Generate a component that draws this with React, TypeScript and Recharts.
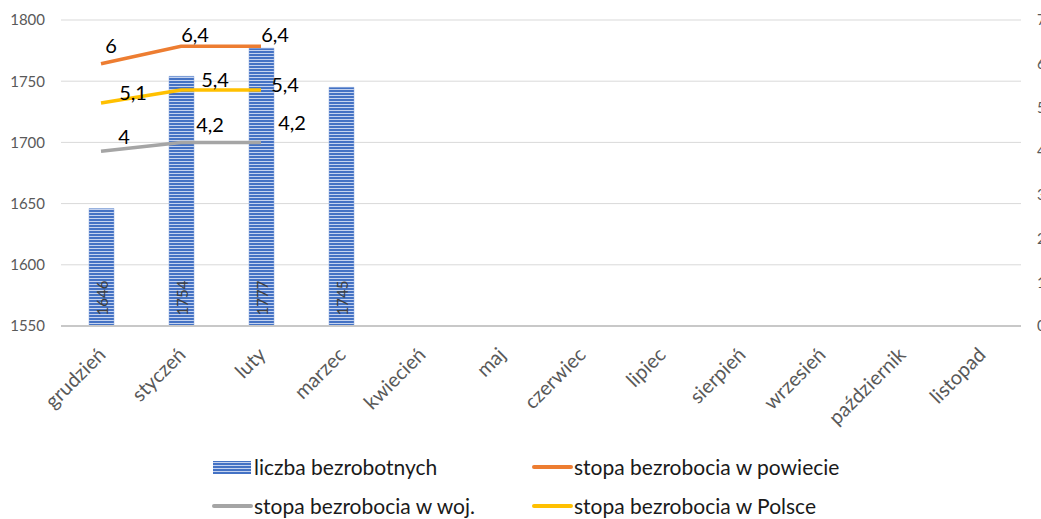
import React from "react";
import {
    Bar,
    CartesianGrid,
    ComposedChart,
    LabelList,
    Line,
    XAxis,
    YAxis,
} from "recharts";

const months = [
    "grudzień",
    "styczeń",
    "luty",
    "marzec",
    "kwiecień",
    "maj",
    "czerwiec",
    "lipiec",
    "sierpień",
    "wrzesień",
    "październik",
    "listopad",
];
const unemployed = [1646, 1754, 1777, 1745, null, null, null, null, null, null, null, null];
const ratePowiat = [6, 6.4, 6.4, null, null, null, null, null, null, null, null, null];
const rateWoj = [4, 4.2, 4.2, null, null, null, null, null, null, null, null, null];
const ratePolska = [5.1, 5.4, 5.4, null, null, null, null, null, null, null, null, null];

const leftTicks = [1550, 1600, 1650, 1700, 1750, 1800];
const rightTicks = [0, 1, 2, 3, 4, 5, 6, 7];

const data = months.map((m, i) => ({
    month: m,
    liczba: unemployed[i],
    powiat: ratePowiat[i],
    woj: rateWoj[i],
    polska: ratePolska[i],
}));

const FONT = "Lato, 'Open Sans', sans-serif";

// hand-placed label nudges, like Excel's dragged labels
const labelNudge: Record<string, [number, number][]> = {
    powiat: [[10, -19], [14, -12], [14, -12]],
    polska: [[32, -11], [34, -11], [24, -6]],
    woj: [[23, -15], [29, -18], [31, -20]],
};

const fmt = (v: number) => String(v).replace(".", ",");

const lineLabel = (key: string) => (props: any) => {
    const { x, y, value, index } = props;
    if (value == null) return null;
    const [dx, dy] = labelNudge[key][index] || [0, -12];
    return (
        <text
            x={x + dx}
            y={y + dy}
            textAnchor="middle"
            dominantBaseline="central"
            fontSize={20}
            fontFamily={FONT}
            fill="#000"
        >
            {fmt(value)}
        </text>
    );
};

const barLabel = (props: any) => {
    const { x, y, width, height, value } = props;
    if (value == null) return null;
    const cx = x + width / 2;
    const cy = y + height - 28;
    return (
        <text
            x={cx}
            y={cy}
            transform={`rotate(-90 ${cx} ${cy})`}
            textAnchor="middle"
            dominantBaseline="central"
            fontSize={15}
            fontFamily={FONT}
            fill="#404040"
        >
            {value}
        </text>
    );
};

const MonthTick = ({ x, y, payload }: any) => (
    <text
        x={x + 6}
        y={y + 22}
        transform={`rotate(-45 ${x + 6} ${y + 22})`}
        textAnchor="end"
        fontSize={20}
        fontFamily={FONT}
        fill="#595959"
    >
        {payload.value}
    </text>
);

const legendItems = [
    { name: "liczba bezrobotnych", kind: "bar", color: "#4472C4" },
    { name: "stopa bezrobocia w powiecie", kind: "line", color: "#ED7D31" },
    { name: "stopa bezrobocia w woj.", kind: "line", color: "#A5A5A5" },
    { name: "stopa bezrobocia w Polsce", kind: "line", color: "#FFC000" },
];

function LegendIcon({ kind, color }: { kind: string; color: string }) {
    if (kind === "bar") {
        return (
            <svg width={42} height={14} style={{ marginRight: 0 }}>
                <defs>
                    <pattern id="stripesLegend" width={4} height={3} patternUnits="userSpaceOnUse">
                        <rect width={4} height={3} fill="#4472C4" />
                        <rect y={2} width={4} height={1} fill="#c5d3ef" />
                    </pattern>
                </defs>
                <rect x={1} y={1} width={38} height={13} fill="url(#stripesLegend)" />
            </svg>
        );
    }
    return (
        <svg width={42} height={14} style={{ marginRight: 0 }}>
            <line x1={2} x2={39} y1={7} y2={7} stroke={color} strokeWidth={4} strokeLinecap="round" />
        </svg>
    );
}

export default function App() {
    return (
        <div style={{ position: "absolute", left: 0, top: 0, width: 1041, height: 519, background: "#fff" }}>
            <ComposedChart
                width={1041}
                height={519}
                data={data}
                margin={{ top: 20, right: 0, left: 0, bottom: 93 }}
                barSize={25}
            >
                <defs>
                    <pattern id="stripes" width={4} height={3} patternUnits="userSpaceOnUse">
                        <rect width={4} height={3} fill="#4472C4" />
                        <rect y={2} width={4} height={1} fill="#c5d3ef" />
                    </pattern>
                </defs>
                <CartesianGrid yAxisId="left" vertical={false} stroke="#d9d9d9" />
                <XAxis
                    dataKey="month"
                    interval={0}
                    height={100}
                    tickLine={false}
                    axisLine={{ stroke: "#c8c8c8", strokeWidth: 2 }}
                    tick={<MonthTick />}
                />
                <YAxis
                    yAxisId="left"
                    domain={[1550, 1800]}
                    ticks={leftTicks}
                    width={61}
                    axisLine={false}
                    tickLine={false}
                    tickSize={0}
                    tickMargin={16}
                    tick={{ fill: "#595959", fontSize: 15, fontFamily: FONT }}
                />
                <YAxis
                    yAxisId="right"
                    orientation="right"
                    domain={[0, 7]}
                    ticks={rightTicks}
                    width={20}
                    axisLine={false}
                    tickLine={false}
                    tickSize={0}
                    tickMargin={16}
                    tick={{ fill: "#595959", fontSize: 15, fontFamily: FONT, textAnchor: "start" }}
                />
                <Bar
                    yAxisId="left"
                    dataKey="liczba"
                    fill="url(#stripes)"
                    stroke="#8faadc"
                    strokeWidth={0.5}
                    isAnimationActive={false}
                >
                    <LabelList dataKey="liczba" content={barLabel} />
                </Bar>
                <Line
                    yAxisId="right"
                    dataKey="powiat"
                    stroke="#ED7D31"
                    strokeWidth={3.5}
                    dot={false}
                    isAnimationActive={false}
                >
                    <LabelList dataKey="powiat" content={lineLabel("powiat")} />
                </Line>
                <Line
                    yAxisId="right"
                    dataKey="woj"
                    stroke="#A5A5A5"
                    strokeWidth={3.5}
                    dot={false}
                    isAnimationActive={false}
                >
                    <LabelList dataKey="woj" content={lineLabel("woj")} />
                </Line>
                <Line
                    yAxisId="right"
                    dataKey="polska"
                    stroke="#FFC000"
                    strokeWidth={3.5}
                    dot={false}
                    isAnimationActive={false}
                >
                    <LabelList dataKey="polska" content={lineLabel("polska")} />
                </Line>
            </ComposedChart>
            <div
                style={{
                    position: "absolute",
                    left: 212,
                    top: 452,
                    display: "grid",
                    gridTemplateColumns: "320px auto",
                    rowGap: 10,
                    fontFamily: FONT,
                    fontSize: 21,
                    color: "#1a1a1a",
                }}
            >
                {legendItems.map((it) => (
                    <div key={it.name} style={{ display: "flex", alignItems: "center", height: 29, whiteSpace: "nowrap" }}>
                        <LegendIcon kind={it.kind} color={it.color} />
                        <span>{it.name}</span>
                    </div>
                ))}
            </div>
        </div>
    );
}
